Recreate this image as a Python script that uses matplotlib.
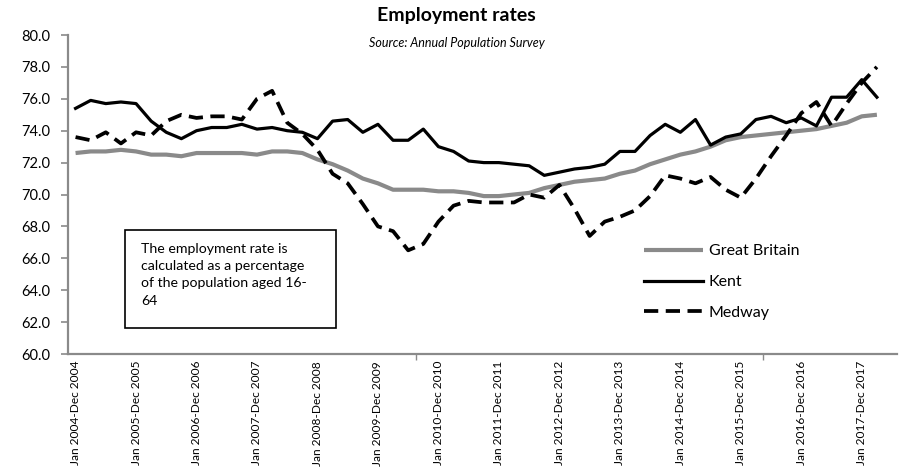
import matplotlib
matplotlib.use("Agg")
import matplotlib.pyplot as plt
import numpy as np

kent = [75.4, 75.9, 75.7, 75.8, 75.7, 74.6, 73.9, 73.5, 74.0, 74.2,
        74.2, 74.4, 74.1, 74.2, 74.0, 73.9, 73.5, 74.6, 74.7, 73.9,
        74.4, 73.4, 73.4, 74.1, 73.0, 72.7, 72.1, 72.0, 72.0, 71.9,
        71.8, 71.2, 71.4, 71.6, 71.7, 71.9, 72.7, 72.7, 73.7, 74.4,
        73.9, 74.7, 73.1, 73.6, 73.8, 74.7, 74.9, 74.5, 74.8, 74.3,
        76.1, 76.1, 77.2, 76.1]
great_britain = [72.6, 72.7, 72.7, 72.8, 72.7, 72.5, 72.5, 72.4, 72.6, 72.6,
                 72.6, 72.6, 72.5, 72.7, 72.7, 72.6, 72.2, 71.9, 71.5, 71.0,
                 70.7, 70.3, 70.3, 70.3, 70.2, 70.2, 70.1, 69.9, 69.9, 70.0,
                 70.1, 70.4, 70.6, 70.8, 70.9, 71.0, 71.3, 71.5, 71.9, 72.2,
                 72.5, 72.7, 73.0, 73.4, 73.6, 73.7, 73.8, 73.9, 74.0, 74.1,
                 74.3, 74.5, 74.9, 75.0]
medway = [73.6, 73.4, 73.9, 73.2, 73.9, 73.7, 74.6, 75.0, 74.8, 74.9,
          74.9, 74.7, 76.0, 76.5, 74.5, 73.8, 72.8, 71.3, 70.7, 69.4,
          68.0, 67.7, 66.5, 66.9, 68.3, 69.3, 69.6, 69.5, 69.5, 69.5,
          70.0, 69.8, 70.6, 69.1, 67.4, 68.3, 68.6, 69.0, 69.9, 71.2,
          71.0, 70.7, 71.1, 70.3, 69.8, 71.0, 72.4, 73.7, 75.1, 75.8,
          74.3, 75.7, 77.0, 78.0]
tick_labels = ["Jan 2004-Dec 2004", "Jan 2005-Dec 2005", "Jan 2006-Dec 2006",
               "Jan 2007-Dec 2007", "Jan 2008-Dec 2008", "Jan 2009-Dec 2009",
               "Jan 2010-Dec 2010", "Jan 2011-Dec 2011", "Jan 2012-Dec 2012",
               "Jan 2013-Dec 2013", "Jan 2014-Dec 2014", "Jan 2015-Dec 2015",
               "Jan 2016-Dec 2016", "Jan 2017-Dec 2017"]
y_ticks = [60, 62, 64, 66, 68, 70, 72, 74, 76, 78, 80]

plt.rcParams['font.family'] = ['Lato', 'DejaVu Sans']

fig = plt.figure(figsize=(9.07, 4.69), dpi=100)
ax = fig.add_axes([68/907, 1-354/469, (897-68)/907, (354-35)/469])

x = np.arange(len(kent))
grey = '#8a8a8a'
ax.plot(x, great_britain, color=grey, lw=3.0, label='Great Britain', solid_capstyle='butt')
ax.plot(x, kent, color='black', lw=2.3, label='Kent')
ax.plot(x, medway, color='black', lw=2.7, dashes=(3.8, 2.0), label='Medway')

ax.set_xlim(-0.5, 54.33)
ax.set_ylim(60, 80)
ax.set_yticks(y_ticks)
ax.set_yticklabels([f"{v:.1f}" for v in y_ticks], fontsize=10.5)
ax.set_xticks(np.arange(0, len(tick_labels)) * 4)
ax.set_xticklabels(tick_labels, rotation=90, fontsize=8.6)
ax.set_xticks([22.5, 45.5], minor=True)
ax.tick_params(axis='x', which='major', length=0, pad=5)
ax.tick_params(axis='x', which='minor', length=4, color=grey, width=1)
ax.tick_params(axis='y', length=5, color=grey, width=1.2, pad=8)

for s in ['top', 'right']:
    ax.spines[s].set_visible(False)
for s in ['left', 'bottom']:
    ax.spines[s].set_color(grey)
    ax.spines[s].set_linewidth(1.6)

fig.text(456/907, 1-15/469, "Employment rates", ha='center', va='center',
         fontsize=14, fontweight='bold')
fig.text(457/907, 1-43/469, "Source: Annual Population Survey", ha='center',
         va='center', fontsize=9, style='italic')

# annotation box
box = plt.Rectangle((125/907, 1-328/469), (336-125)/907, (328-230)/469,
                    transform=fig.transFigure, fill=False, edgecolor='black', lw=1.2)
fig.add_artist(box)
fig.text(141/907, 1-243/469,
         "The employment rate is\ncalculated as a percentage\nof the population aged 16-\n64",
         ha='left', va='top', fontsize=10.2, linespacing=1.52)

leg = ax.legend(loc='upper left', bbox_to_anchor=(644/907, 1-244/469),
                bbox_transform=fig.transFigure, frameon=False, fontsize=11.5,
                handlelength=3.7, handletextpad=0.35, labelspacing=1.05,
                borderpad=0, borderaxespad=0)

fig.savefig("out.png", dpi=100)
